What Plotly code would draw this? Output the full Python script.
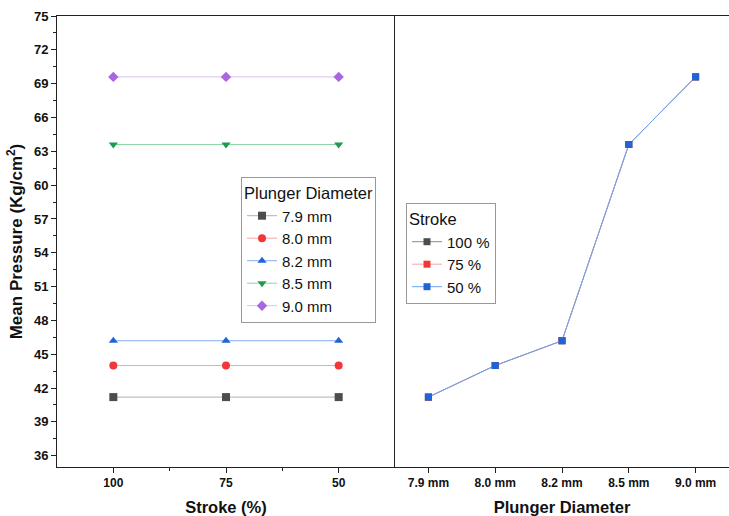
import plotly.graph_objects as go

strokes = ["100", "75", "50"]
diameters = ["7.9 mm", "8.0 mm", "8.2 mm", "8.5 mm", "9.0 mm"]
pressure_by_diameter = {
    "7.9 mm": [41.2, 41.2, 41.2],
    "8.0 mm": [44.0, 44.0, 44.0],
    "8.2 mm": [46.2, 46.2, 46.2],
    "8.5 mm": [63.6, 63.6, 63.6],
    "9.0 mm": [69.6, 69.6, 69.6],
}
stroke_series = ["100 %", "75 %", "50 %"]
pressure_by_stroke = {
    "100 %": [41.2, 44.0, 46.2, 63.6, 69.6],
    "75 %": [41.2, 44.0, 46.2, 63.6, 69.6],
    "50 %": [41.2, 44.0, 46.2, 63.6, 69.6],
}
yticks = list(range(36, 76, 3))

FONT = "Arial, Liberation Sans, sans-serif"

dia_styles = {
    "7.9 mm": ("#4d4d4d", "#b0b0b0", "square"),
    "8.0 mm": ("#f03838", "#f6a6a6", "circle"),
    "8.2 mm": ("#1f63d8", "#86aef0", "triangle-up"),
    "8.5 mm": ("#1f9a4e", "#8fd4a8", "triangle-down"),
    "9.0 mm": ("#a866e0", "#d8bff2", "diamond"),
}
stroke_styles = {
    "100 %": ("#4d4d4d", "#8a8a8a"),
    "75 %": ("#f03838", "#f6a6a6"),
    "50 %": ("#1f63d8", "#6aa2ee"),
}

fig = go.Figure()
xl = list(range(len(strokes)))
for d in diameters:
    mc, lc, sym = dia_styles[d]
    fig.add_trace(go.Scatter(
        x=xl, y=pressure_by_diameter[d], mode="lines+markers", name=d,
        line=dict(color=lc, width=1), marker=dict(color=mc, symbol=sym, size=8),
        xaxis="x", yaxis="y", legend="legend"))

xr = list(range(len(diameters)))
for s in stroke_series:
    mc, lc = stroke_styles[s]
    fig.add_trace(go.Scatter(
        x=xr, y=pressure_by_stroke[s], mode="lines+markers", name=s,
        line=dict(color=lc, width=1), marker=dict(color=mc, symbol="square", size=7),
        xaxis="x2", yaxis="y2", legend="legend2"))

split = (395 - 57) / (729 - 57)
axcommon = dict(showline=True, linecolor="#222", linewidth=1, showgrid=False,
                zeroline=False, ticks="outside", ticklen=5, tickcolor="#222")

fig.update_layout(
    width=729, height=516,
    margin=dict(l=57, r=0, t=16, b=49),
    plot_bgcolor="white", paper_bgcolor="white",
    font=dict(family=FONT, color="#111"),
    xaxis=dict(domain=[0, split], range=[-0.5, len(strokes) - 0.5],
               tickvals=xl, ticktext=strokes, mirror=True,
               minor=dict(tickvals=[0.5, 1.5], ticks="outside", ticklen=3, tickcolor="#222"),
               tickfont=dict(size=12, family=FONT, weight="bold"),
               title=dict(text="Stroke (%)", font=dict(size=16.5, weight="bold"), standoff=13),
               anchor="y", **axcommon),
    xaxis2=dict(domain=[split, 1], range=[-0.5, len(diameters) - 0.5],
                tickvals=xr, ticktext=diameters, mirror=True,
                tickfont=dict(size=12, family=FONT, weight="bold"),
                title=dict(text="Plunger Diameter", font=dict(size=16.5, weight="bold"), standoff=13),
                anchor="y2", **axcommon),
    yaxis=dict(range=[35, 75], tickvals=yticks, anchor="x",
               minor=dict(tick0=36, dtick=1.5, ticks="outside", ticklen=3, tickcolor="#222"),
               tickfont=dict(size=13, family=FONT, weight="bold"),
               title=dict(text="Mean Pressure (Kg/cm<sup>2</sup>)", font=dict(size=17, weight="bold"), standoff=6),
               **axcommon),
    yaxis2=dict(range=[35, 75], anchor="x2", showticklabels=False,
                showline=True, linecolor="#222", linewidth=1, showgrid=False,
                zeroline=False, ticks=""),
    legend=dict(x=(241 - 57) / 672, y=(467 - 177) / 451, xanchor="left", yanchor="top",
                bordercolor="#999", borderwidth=1, bgcolor="white",
                title=dict(text="Plunger Diameter", font=dict(size=16.5)),
                font=dict(size=15), tracegroupgap=0, itemwidth=30),
    legend2=dict(x=(406 - 57) / 672, y=(467 - 203) / 451, xanchor="left", yanchor="top",
                 bordercolor="#999", borderwidth=1, bgcolor="white",
                 title=dict(text="Stroke", font=dict(size=16.5)),
                 font=dict(size=15), tracegroupgap=0, itemwidth=30),
)

fig.write_html("out.html")
